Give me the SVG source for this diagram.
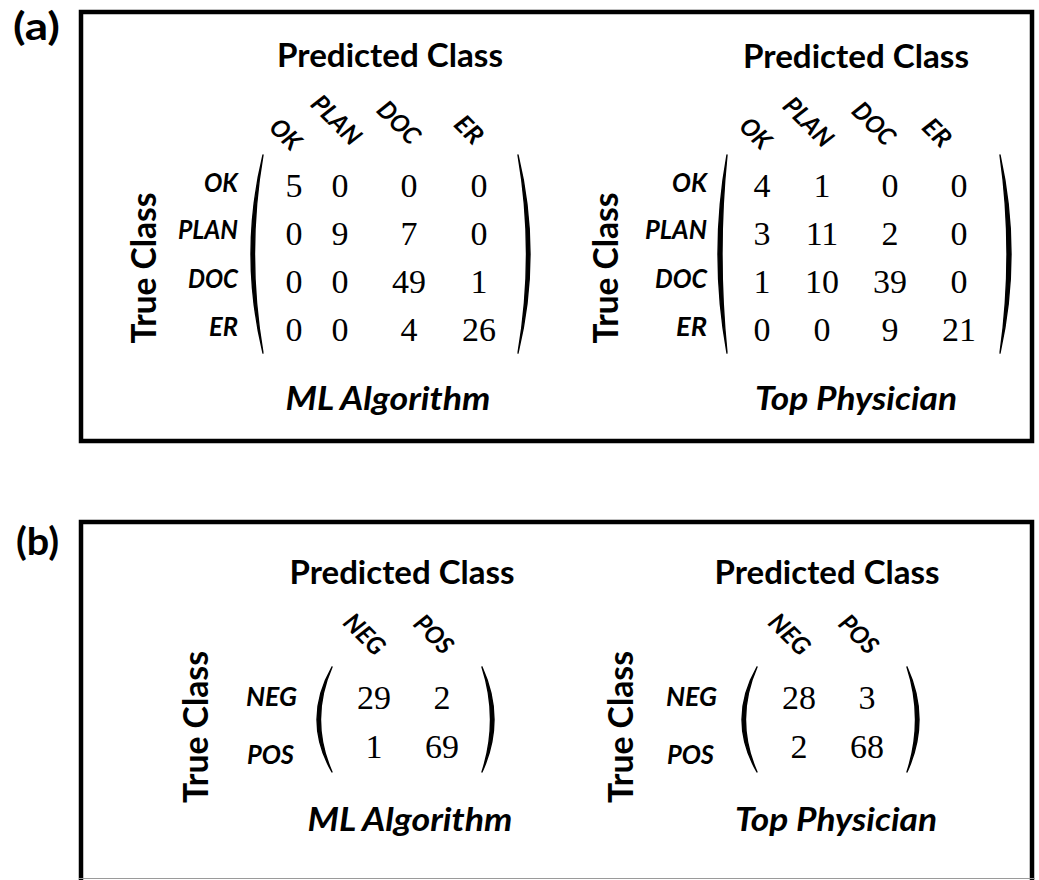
<svg xmlns="http://www.w3.org/2000/svg" width="1039" height="880" viewBox="0 0 1039 880">
<style>
.frame{fill:none;stroke:#000;stroke-width:4.5}
.sans{font-family:Lato,'Open Sans','Liberation Sans',sans-serif;font-weight:700;fill:#000}
.panel{font-size:38px}
.title{font-size:33px;text-anchor:middle}
.axis{font-size:35px;text-anchor:middle}
.it{font-style:italic}
.row{font-size:26px;text-anchor:end}
.rowb{font-size:26px;text-anchor:start}
.col{font-size:25px;text-anchor:end}
.num{font-family:'Liberation Serif','Times New Roman',serif;font-size:34px;text-anchor:middle;fill:#000}
.par{fill:#000;stroke:#000;stroke-width:1.4;stroke-linejoin:round}
</style>
<rect width="1039" height="880" fill="#fff"/>

<g id="panel-a">
  <rect class="frame" x="81" y="12" width="951" height="429"/>
  <text class="sans panel" x="13" y="40" textLength="47" lengthAdjust="spacingAndGlyphs">(a)</text>
</g>

<g id="a-ml">
  <text class="sans title" x="390" y="67" textLength="226" lengthAdjust="spacingAndGlyphs">Predicted Class</text>
  <text class="sans col it" transform="translate(291,152) rotate(45)" textLength="33" lengthAdjust="spacingAndGlyphs">OK</text>
  <text class="sans col it" transform="translate(351,147) rotate(45)" textLength="59" lengthAdjust="spacingAndGlyphs">PLAN</text>
  <text class="sans col it" transform="translate(410,146) rotate(45)" textLength="49" lengthAdjust="spacingAndGlyphs">DOC</text>
  <text class="sans col it" transform="translate(473,146) rotate(45)" textLength="29" lengthAdjust="spacingAndGlyphs">ER</text>
  <text class="sans axis" transform="translate(156,268) rotate(-90)" textLength="151" lengthAdjust="spacingAndGlyphs">True Class</text>
  <text class="sans row it" x="238" y="192" textLength="34" lengthAdjust="spacingAndGlyphs">OK</text>
  <text class="sans row it" x="238" y="239" textLength="60" lengthAdjust="spacingAndGlyphs">PLAN</text>
  <text class="sans row it" x="238" y="288" textLength="50" lengthAdjust="spacingAndGlyphs">DOC</text>
  <text class="sans row it" x="238" y="336" textLength="29" lengthAdjust="spacingAndGlyphs">ER</text>
  <path class="par" d="M263 155 Q239 254 263 353 Q246 254 263 155Z"/>
  <path class="par" d="M518 155 Q542 254 518 353 Q535 254 518 155Z"/>
  <g class="num">
    <text x="294" y="197">5</text><text x="340" y="197">0</text><text x="409" y="197">0</text><text x="479" y="197">0</text>
    <text x="294" y="245">0</text><text x="340" y="245">9</text><text x="409" y="245">7</text><text x="479" y="245">0</text>
    <text x="294" y="293">0</text><text x="340" y="293">0</text><text x="409" y="293">49</text><text x="479" y="293">1</text>
    <text x="294" y="341">0</text><text x="340" y="341">0</text><text x="409" y="341">4</text><text x="479" y="341">26</text>
  </g>
  <text class="sans title it" x="388" y="410" textLength="205" lengthAdjust="spacingAndGlyphs">ML Algorithm</text>
</g>

<g id="a-physician">
  <text class="sans title" x="856" y="68" textLength="226" lengthAdjust="spacingAndGlyphs">Predicted Class</text>
  <text class="sans col it" transform="translate(761,151) rotate(45)" textLength="33" lengthAdjust="spacingAndGlyphs">OK</text>
  <text class="sans col it" transform="translate(823,149) rotate(45)" textLength="59" lengthAdjust="spacingAndGlyphs">PLAN</text>
  <text class="sans col it" transform="translate(885,147) rotate(45)" textLength="49" lengthAdjust="spacingAndGlyphs">DOC</text>
  <text class="sans col it" transform="translate(941,149) rotate(45)" textLength="29" lengthAdjust="spacingAndGlyphs">ER</text>
  <text class="sans axis" transform="translate(618,268) rotate(-90)" textLength="151" lengthAdjust="spacingAndGlyphs">True Class</text>
  <text class="sans row it" x="707" y="192" textLength="35" lengthAdjust="spacingAndGlyphs">OK</text>
  <text class="sans row it" x="707" y="239" textLength="62" lengthAdjust="spacingAndGlyphs">PLAN</text>
  <text class="sans row it" x="707" y="288" textLength="52" lengthAdjust="spacingAndGlyphs">DOC</text>
  <text class="sans row it" x="707" y="336" textLength="31" lengthAdjust="spacingAndGlyphs">ER</text>
  <path class="par" d="M727 155 Q709 254 727 353 Q717 254 727 155Z"/>
  <path class="par" d="M1000 155 Q1022 254 1000 353 Q1014 254 1000 155Z"/>
  <g class="num">
    <text x="762" y="197">4</text><text x="822" y="197">1</text><text x="890" y="197">0</text><text x="959" y="197">0</text>
    <text x="762" y="245">3</text><text x="822" y="245">11</text><text x="890" y="245">2</text><text x="959" y="245">0</text>
    <text x="762" y="293">1</text><text x="822" y="293">10</text><text x="890" y="293">39</text><text x="959" y="293">0</text>
    <text x="762" y="341">0</text><text x="822" y="341">0</text><text x="890" y="341">9</text><text x="959" y="341">21</text>
  </g>
  <text class="sans title it" x="856" y="410" textLength="202" lengthAdjust="spacingAndGlyphs">Top Physician</text>
</g>

<g id="panel-b">
  <rect class="frame" x="81" y="522" width="951" height="364"/>
  <line x1="79" y1="878.5" x2="1035" y2="878.5" stroke="#9a9a9a" stroke-width="1"/>
  <text class="sans panel" x="16" y="555" textLength="43" lengthAdjust="spacingAndGlyphs">(b)</text>
</g>

<g id="b-ml">
  <text class="sans title" x="402" y="584" textLength="225" lengthAdjust="spacingAndGlyphs">Predicted Class</text>
  <text class="sans col it" transform="translate(375,657) rotate(45)" textLength="47" lengthAdjust="spacingAndGlyphs">NEG</text>
  <text class="sans col it" transform="translate(443,656) rotate(45)" textLength="44" lengthAdjust="spacingAndGlyphs">POS</text>
  <text class="sans axis" transform="translate(208,727) rotate(-90)" textLength="152" lengthAdjust="spacingAndGlyphs">True Class</text>
  <text class="sans rowb it" x="246" y="706" textLength="51" lengthAdjust="spacingAndGlyphs">NEG</text>
  <text class="sans rowb it" x="247" y="764" textLength="47" lengthAdjust="spacingAndGlyphs">POS</text>
  <path class="par" d="M332 667 Q302 719.5 332 772 Q309 719.5 332 667Z"/>
  <path class="par" d="M482 667 Q506 719.5 482 772 Q499 719.5 482 667Z"/>
  <g class="num">
    <text x="374" y="709">29</text><text x="442" y="709">2</text>
    <text x="374" y="758">1</text><text x="442" y="758">69</text>
  </g>
  <text class="sans title it" x="410" y="831" textLength="205" lengthAdjust="spacingAndGlyphs">ML Algorithm</text>
</g>

<g id="b-physician">
  <text class="sans title" x="827" y="584" textLength="225" lengthAdjust="spacingAndGlyphs">Predicted Class</text>
  <text class="sans col it" transform="translate(800,657) rotate(45)" textLength="47" lengthAdjust="spacingAndGlyphs">NEG</text>
  <text class="sans col it" transform="translate(868,656) rotate(45)" textLength="44" lengthAdjust="spacingAndGlyphs">POS</text>
  <text class="sans axis" transform="translate(633,727) rotate(-90)" textLength="152" lengthAdjust="spacingAndGlyphs">True Class</text>
  <text class="sans rowb it" x="666" y="706" textLength="51" lengthAdjust="spacingAndGlyphs">NEG</text>
  <text class="sans rowb it" x="667" y="764" textLength="47" lengthAdjust="spacingAndGlyphs">POS</text>
  <path class="par" d="M757 667 Q727 719.5 757 772 Q734 719.5 757 667Z"/>
  <path class="par" d="M907 667 Q931 719.5 907 772 Q924 719.5 907 667Z"/>
  <g class="num">
    <text x="799" y="709">28</text><text x="867" y="709">3</text>
    <text x="799" y="758">2</text><text x="867" y="758">68</text>
  </g>
  <text class="sans title it" x="836" y="831" textLength="202" lengthAdjust="spacingAndGlyphs">Top Physician</text>
</g>
</svg>
